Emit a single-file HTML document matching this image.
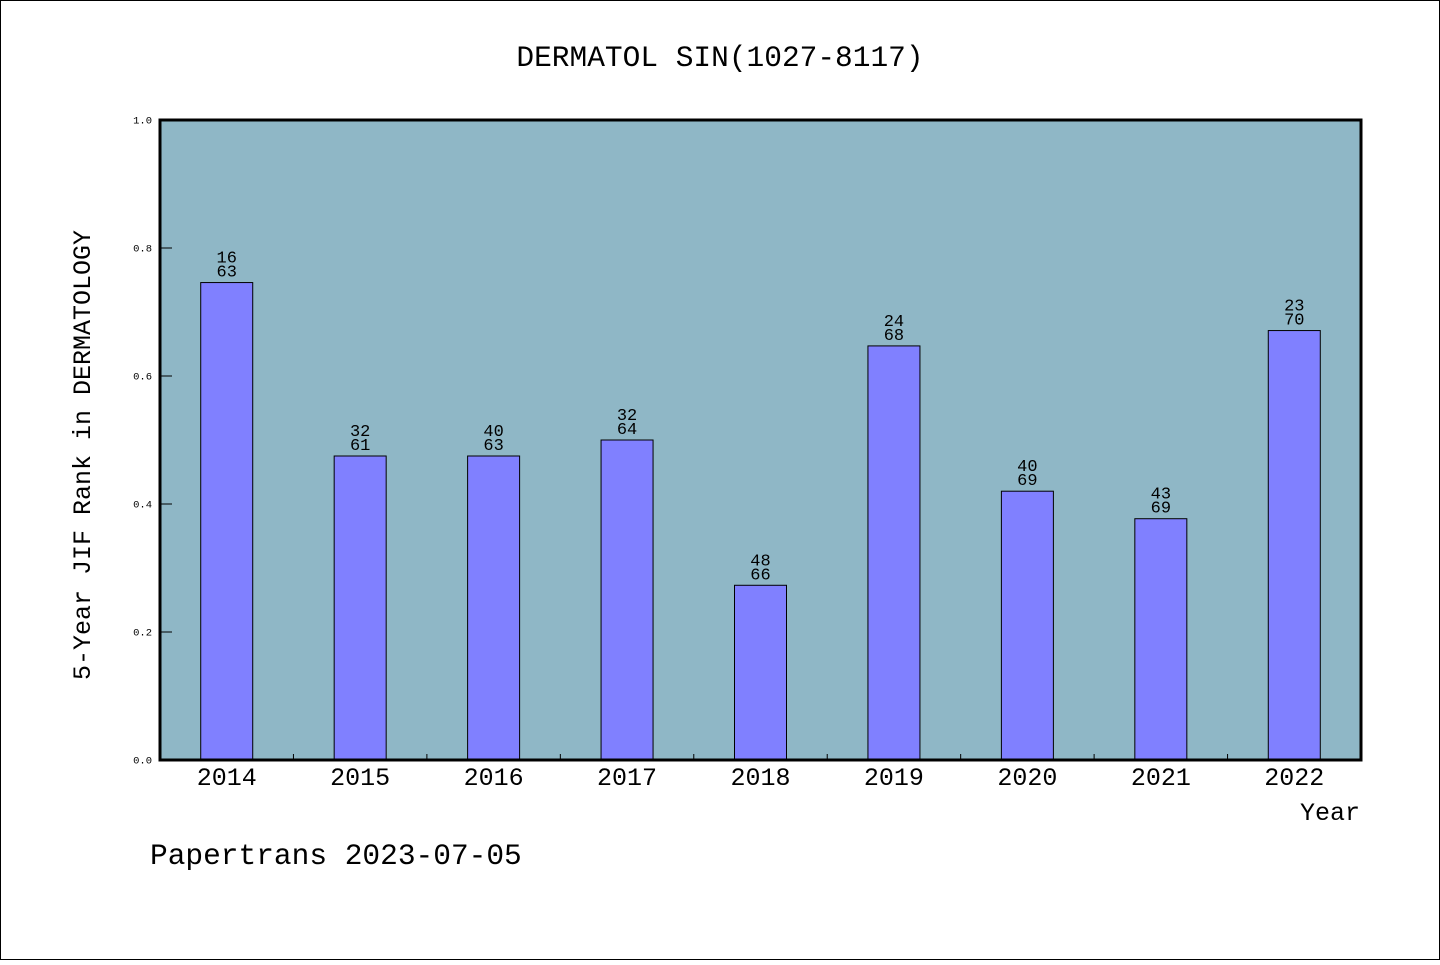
<!DOCTYPE html>
<html><head><meta charset="utf-8">
<style>
body{margin:0;background:#fff;}
svg text{font-family:"Liberation Mono","WenQuanYi Zen Hei",monospace;fill:#000;}
</style></head>
<body>
<svg width="1440" height="960" xmlns="http://www.w3.org/2000/svg">
<rect x="0.5" y="0.5" width="1439" height="959" fill="#fff" stroke="#000"/>
<text x="720" y="66" text-anchor="middle" font-size="29.5">DERMATOL SIN(1027-8117)</text>
<rect x="160" y="120" width="1201" height="640" fill="#8fb7c6"/>
<g id="marks"></g>
<rect x="160" y="120" width="1201" height="640" fill="none" stroke="#000" stroke-width="3"/>
<text x="0" y="0" transform="translate(90,455) rotate(-90)" text-anchor="middle" font-size="25">5-Year JIF Rank in DERMATOLOGY</text>
<text x="1360" y="820" text-anchor="end" font-size="25">Year</text>
<text x="150" y="864" font-size="29.5">Papertrans 2023-07-05</text>
</svg>
<script>
const years=['2014','2015','2016','2017','2018','2019','2020','2021','2022'];
const values=[0.746,0.475,0.475,0.5,0.273,0.647,0.42,0.377,0.671];
const ranks=[16,32,40,32,48,24,40,43,23];
const totals=[63,61,63,64,66,68,69,69,70];
const yTicks=[0,0.2,0.4,0.6,0.8,1.0];
const X0=160,X1=1361,Y0=760,Y1=120;
const step=(X1-X0)/years.length;
const xc=i=>X0+step*(i+0.5);
const ys=v=>Y0-(v)*(Y0-Y1);
const NS='http://www.w3.org/2000/svg';
const g=document.getElementById('marks');
function mk(t,a){const e=document.createElementNS(NS,t);for(const k in a)e.setAttribute(k,a[k]);g.appendChild(e);return e;}
yTicks.forEach(v=>{
 const y=ys(v);
 const l=mk('line',{x1:X0,x2:X0+12,y1:y,y2:y,stroke:'#000','stroke-width':1});
 
 
 const t=mk('text',{x:X0-8,y:y+3.5,'text-anchor':'end','font-size':10.5});
 t.textContent=v.toFixed(1);
 
 
});
for(let i=1;i<years.length;i++){
 const x=X0+step*i;
 const l=mk('line',{x1:x,x2:x,y1:Y0,y2:Y0-6,stroke:'#000','stroke-width':1});
 
 
}
years.forEach((yr,i)=>{
 const v=values[i];
 const w=52,x=xc(i)-w/2,y=ys(v);
 const b=mk('rect',{x:x,y:y,width:w,height:Y0-y,fill:'#8080ff',stroke:'#000','stroke-width':1});
 
 
 const t1=mk('text',{x:xc(i),y:y-20,'text-anchor':'middle','font-size':17});
 t1.textContent=ranks[i];
 
 
 const t2=mk('text',{x:xc(i),y:y-6,'text-anchor':'middle','font-size':17});
 t2.textContent=totals[i];
 
 
 const xl=mk('text',{x:xc(i),y:785,'text-anchor':'middle','font-size':25});
 xl.textContent=yr;
 
 
});
</script>
</body></html>
